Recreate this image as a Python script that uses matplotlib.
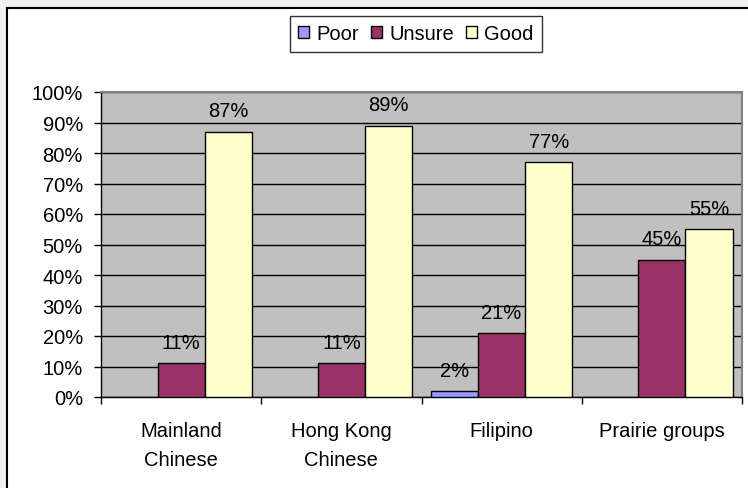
import matplotlib.pyplot as plt
import numpy as np
from matplotlib.lines import Line2D

plt.rcParams['font.family'] = ['Liberation Sans', 'DejaVu Sans']

# Data
categories = ['Mainland\nChinese', 'Hong Kong\nChinese', 'Filipino', 'Prairie groups']
series = ['Poor', 'Unsure', 'Good']
poor = [0, 0, 2, 0]
unsure = [11, 11, 21, 45]
good = [87, 89, 77, 55]
colors = ['#9999FF', '#993366', '#FFFFCC']

W, H = 748, 489
FS = 14.5
fig = plt.figure(figsize=(W / 100, H / 100), dpi=100, facecolor='#F0F0F0')

# white chart area with black top/left border
fig.patches.append(plt.Rectangle((7 / W, 0), 1, 1 - 9 / H, transform=fig.transFigure,
                                 facecolor='white', edgecolor='none', zorder=-5))
fig.lines.append(Line2D([7 / W, 7 / W], [0, 1 - 9 / H], transform=fig.transFigure, color='black', lw=1.5))
fig.lines.append(Line2D([7 / W, 1], [1 - 9 / H, 1 - 9 / H], transform=fig.transFigure, color='black', lw=1.5))

ax = fig.add_axes([101 / W, (H - 398) / H, (742 - 101) / W, (398 - 93) / H])
ax.set_facecolor('#C0C0C0')

x = np.arange(len(categories))
bw = 0.294
for i, (name, vals) in enumerate(zip(series, [poor, unsure, good])):
    pos = x + (i - 1) * bw
    vals = np.array(vals)
    ec = ['black' if v > 0 else 'none' for v in vals]
    ax.bar(pos, vals, bw, color=colors[i], edgecolor=ec, linewidth=1, label=name, zorder=3)
    for p, v in zip(pos, vals):
        if v > 0:
            ax.annotate(f'{v}%', (p, v), xytext=(0, 11), textcoords='offset points',
                        ha='center', va='baseline', fontsize=FS, zorder=4)

ax.set_xlim(-0.5, len(categories) - 0.5)
ax.set_ylim(0, 100)
ax.set_yticks(range(0, 101, 10))
ax.set_yticklabels([f'{v}%' for v in range(0, 101, 10)], fontsize=FS)
ax.yaxis.grid(True, color='black', lw=1, zorder=1)
ax.set_axisbelow(True)

ax.set_xticks(x)
ax.set_xticklabels(categories, fontsize=FS, linespacing=1.7)
ax.set_xticks(np.arange(-0.5, len(categories)), minor=True)
ax.tick_params(axis='x', which='major', length=0, pad=17)
ax.tick_params(axis='x', which='minor', length=5, width=1, direction='out', color='black')
ax.tick_params(axis='y', length=5, width=1, direction='out', pad=8, color='black')

for s in ['top', 'right']:
    ax.spines[s].set_color('#808080')
    ax.spines[s].set_linewidth(1.5)
for s in ['left', 'bottom']:
    ax.spines[s].set_color('black')
    ax.spines[s].set_linewidth(1)

leg = fig.legend(loc='center', bbox_to_anchor=(416 / W, 1 - 35 / H), ncol=3, fontsize=FS,
                 frameon=True, fancybox=False, edgecolor='black', handlelength=0.55, handleheight=0.55,
                 handletextpad=0.35, columnspacing=0.6, borderpad=0.4, borderaxespad=0)
leg.get_frame().set_linewidth(1)
for h in leg.legend_handles:
    h.set_edgecolor('black')
    h.set_linewidth(1)

fig.savefig('out.png', dpi=100, facecolor=fig.get_facecolor())
